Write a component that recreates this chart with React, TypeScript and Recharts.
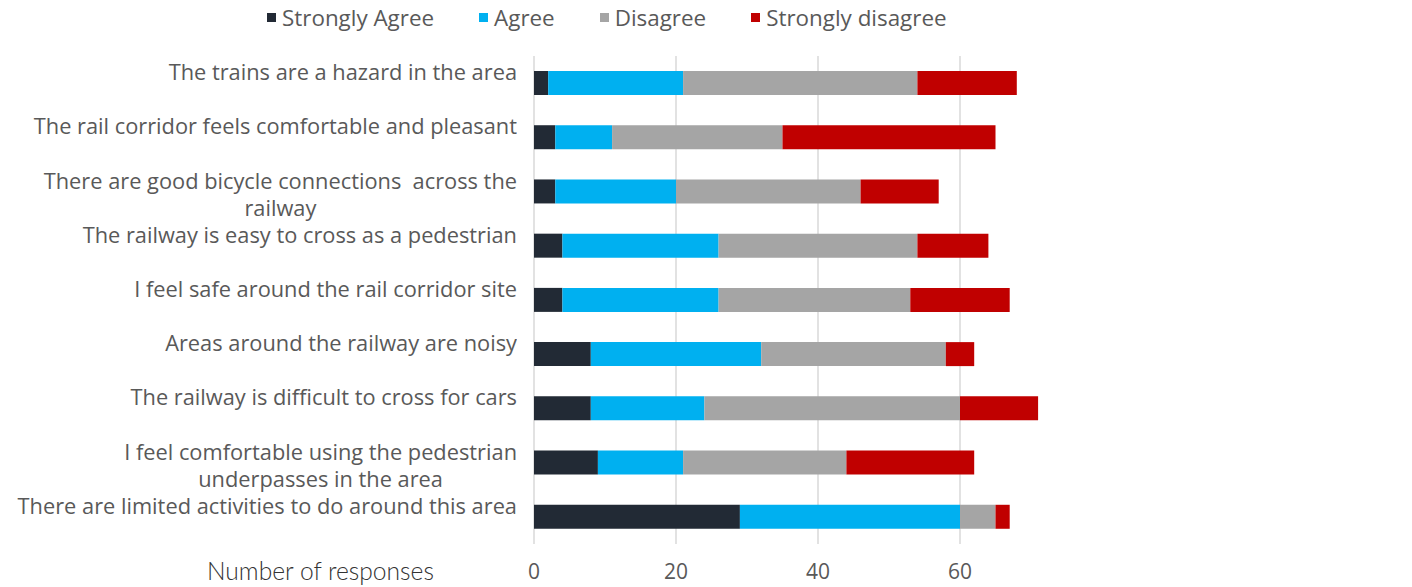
import { Bar, BarChart, CartesianGrid, Legend, XAxis, YAxis } from "recharts";

const statements = [
  "The trains are a hazard in the area",
  "The rail corridor feels comfortable and pleasant",
  "There are good bicycle connections  across the\nrailway",
  "The railway is easy to cross as a pedestrian",
  "I feel safe around the rail corridor site",
  "Areas around the railway are noisy",
  "The railway is difficult to cross for cars",
  "I feel comfortable using the pedestrian\nunderpasses in the area",
  "There are limited activities to do around this area",
];

const stronglyAgree = [2, 3, 3, 4, 4, 8, 8, 9, 29];
const agree = [19, 8, 17, 22, 22, 24, 16, 12, 31];
const disagree = [33, 24, 26, 28, 27, 26, 36, 23, 5];
const stronglyDisagree = [14, 30, 11, 10, 14, 4, 11, 18, 2];

const xTicks = [0, 20, 40, 60];

const series = [
  { key: "sa", name: "Strongly Agree", color: "#222a35" },
  { key: "a", name: "Agree", color: "#00b0f0" },
  { key: "d", name: "Disagree", color: "#a5a5a5" },
  { key: "sd", name: "Strongly disagree", color: "#c00000" },
];

const data = statements.map((s, i) => ({
  name: s,
  sa: stronglyAgree[i],
  a: agree[i],
  d: disagree[i],
  sd: stronglyDisagree[i],
}));

const FONT = "'Open Sans', 'Noto Sans', sans-serif";

function StatementTick(props: any) {
  const { y, payload } = props;
  const lines = String(payload.value).split("\n");
  return (
    <foreignObject x={0} y={y - 25} width={517} height={60}>
      <div style={{ textAlign: "right", fontFamily: FONT, fontSize: 21.8, lineHeight: "27px", color: "#595959" }}>
        <span style={{ display: "inline-block", textAlign: "center", whiteSpace: "pre" }}>
          {lines.join("\n")}
        </span>
      </div>
    </foreignObject>
  );
}

function LegendRow() {
  return (
    <div style={{ display: "flex", alignItems: "center", gap: 45, paddingLeft: 267, fontFamily: FONT, fontSize: 22.4, color: "#595959" }}>
      {series.map((s) => (
        <div key={s.key} style={{ display: "flex", alignItems: "center", gap: 6 }}>
          <span style={{ width: 9, height: 9, background: s.color, display: "inline-block" }} />
          <span>{s.name}</span>
        </div>
      ))}
    </div>
  );
}

export default function App() {
  return (
    <div style={{ position: "absolute", left: 0, top: 0, width: 1412, height: 587, background: "#fff" }}>
      <BarChart
        width={1412}
        height={587}
        data={data}
        layout="vertical"
        margin={{ top: 56, right: 310, bottom: 0, left: 0 }}
        barSize={24}
      >
        <CartesianGrid horizontal={false} verticalValues={xTicks} stroke="#d9d9d9" strokeWidth={1.5} />
        <XAxis
          type="number"
          domain={[0, 80]}
          ticks={xTicks}
          axisLine={false}
          tickLine={false}
          height={43}
          tick={{ fontFamily: FONT, fontSize: 21, fill: "#595959", dy: 12 }}
        />
        <YAxis
          type="category"
          dataKey="name"
          width={534}
          axisLine={false}
          tickLine={false}
          interval={0}
          tick={<StatementTick />}
        />
        <Legend
          layout="horizontal"
          verticalAlign="middle"
          content={() => <LegendRow />}
          wrapperStyle={{ top: 2, left: 0, width: 1412 }}
        />
        {series.map((s) => (
          <Bar key={s.key} dataKey={s.key} name={s.name} stackId="all" fill={s.color} isAnimationActive={false} />
        ))}
        <text x={207} y={580} fontFamily="Lato, sans-serif" fontSize={24.6} fontWeight={300} fill="#333">
          Number of responses
        </text>
      </BarChart>
    </div>
  );
}
